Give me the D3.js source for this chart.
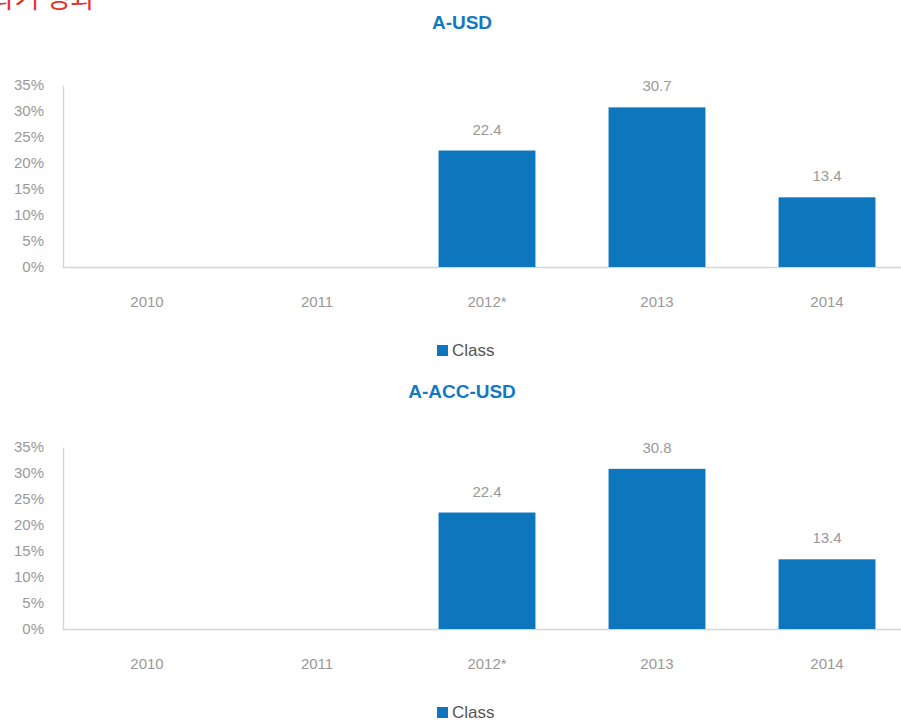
<!DOCTYPE html>
<html>
<head>
<meta charset="utf-8">
<script src="https://cdn.jsdelivr.net/npm/d3@7"></script>
<style>
	body { margin: 0; background: #fff; }
	svg { display: block; font-family: "Liberation Sans", Arial, sans-serif; }
</style>
</head>
<body>
<svg id="chart" width="901" height="722"></svg>
<script>
// chart data
var years = ["2010", "2011", "2012*", "2013", "2014"];
var usdValues = [null, null, 22.4, 30.7, 13.4];
var accValues = [null, null, 22.4, 30.8, 13.4];
var yTicks = [0, 5, 10, 15, 20, 25, 30, 35];
var titles = ["A-USD", "A-ACC-USD"];
var legendLabel = "Class";

var barColor = "#0e76bc";
var titleColor = "#1479c4";

var svg = d3.select("#chart");

// red heading, cut off by the top edge as in the source
svg.append("text")
	.attr("x", -10)
	.attr("y", 8)
	.attr("font-family", "'Noto Sans CJK KR', sans-serif")
	.attr("font-size", 27)
	.attr("fill", "#e8312f")
	.text("과거 성과");

var xScale = d3.scaleBand()
	.domain(years)
	.range([62, 912])
	.paddingInner(0.43)
	.paddingOuter(0.215);

var yScale = d3.scaleLinear()
	.domain([0, 35])
	.range([182, 0]);

function drawPanel(title, values, top, titleY) {
	var g = svg.append("g")
		.attr("transform", "translate(0," + top + ")");

	// title
	g.append("text")
		.attr("x", 462)
		.attr("y", titleY - top + 7)
		.attr("text-anchor", "middle")
		.attr("font-family", "'Liberation Sans', Arial, sans-serif")
		.attr("font-weight", "bold")
		.attr("font-size", 19)
		.attr("fill", titleColor)
		.text(title);

	// y axis
	var yAxis = g.append("g")
		.attr("transform", "translate(63,0)")
		.call(d3.axisLeft(yScale).tickValues(yTicks).tickSize(0).tickPadding(19).tickFormat(d => d + "%"));
	yAxis.select(".domain").attr("stroke", "#d6d6d6").attr("stroke-width", 1.5);
	yAxis.selectAll("text")
		.attr("font-size", 15)
		.attr("fill", "#999");

	// x axis
	var xAxis = g.append("g")
		.attr("transform", "translate(0,182)")
		.call(d3.axisBottom(xScale).tickSize(0).tickPadding(29));
	xAxis.select(".domain").attr("stroke", "#d6d6d6").attr("stroke-width", 1.5);
	xAxis.selectAll("text")
		.attr("font-size", 15)
		.attr("fill", "#999");

	var data = years.map((y, i) => ({ year: y, value: values[i] })).filter(d => d.value != null);

	// bars
	g.selectAll(".bar")
		.data(data)
		.enter()
		.append("rect")
		.attr("class", "bar")
		.attr("x", d => xScale(d.year))
		.attr("y", d => yScale(d.value))
		.attr("width", xScale.bandwidth())
		.attr("height", d => 182 - yScale(d.value))
		.attr("fill", barColor);

	// value labels
	g.selectAll(".val")
		.data(data)
		.enter()
		.append("text")
		.attr("class", "val")
		.attr("x", d => xScale(d.year) + xScale.bandwidth() / 2)
		.attr("y", d => yScale(d.value) - 16)
		.attr("text-anchor", "middle")
		.attr("font-size", 15)
		.attr("fill", "#999")
		.text(d => d.value.toFixed(1));

	// legend
	var lg = g.append("g").attr("transform", "translate(437,266)");
	lg.append("rect")
		.attr("x", 0)
		.attr("y", -6)
		.attr("width", 11)
		.attr("height", 11)
		.attr("fill", barColor);
	lg.append("text")
		.attr("x", 15)
		.attr("y", 5)
		.attr("font-size", 17)
		.attr("fill", "#555")
		.text(legendLabel);
}

drawPanel(titles[0], usdValues, 85, 22);
drawPanel(titles[1], accValues, 447, 391);
</script>
</body>
</html>
